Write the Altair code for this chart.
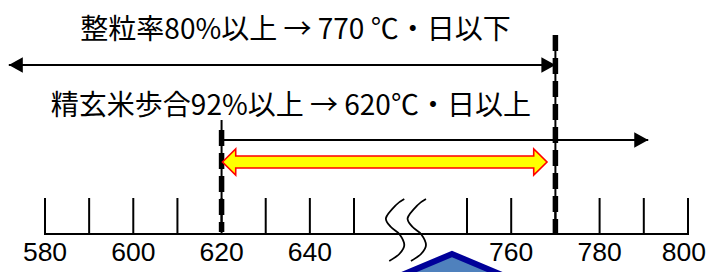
import altair as alt
import pandas as pd

# ---------------- data ----------------
TICK_VALUES = [580, 590, 600, 610, 620, 630, 640, 650, 750, 760, 770, 780, 790, 800]
TICK_LABELS = [580, 600, 620, 640, 760, 780, 800]
AXIS_MIN, AXIS_MAX = 580, 800
BREAK_LO, BREAK_HI = 650, 750

LOWER = 620   # 精玄米歩合92%以上 -> 620℃・日以上
UPPER = 770   # 整粒率80%以上 -> 770℃・日以下

TEXT_TOP = "整粒率80%以上 → 770 ℃・日以下"
TEXT_BOTTOM = "精玄米歩合92%以上 → 620℃・日以上"

# arrow extents (temperature units)
ARROW_UPPER_FROM = 571.8   # open-ended to the left
ARROW_LOWER_TO = 791       # open-ended to the right
OPT_FROM, OPT_TO = 620.2, 768.1   # optimal range arrow
OPT_HEAD = 3.0

# break symbol (temperature units inside the break)
BREAK_S_X = [694.5, 687.2, 678.3, 682.7, 690.1, 694.5, 690.1, 681.2]
BREAK_S_Y = [199, 205, 218, 227, 234, 245, 254, 261]
BREAK_S_SHIFT = 19.2

# bottom chevron
CHEV_X = [681.9, 736.7, 760.6]

# ---------------- layout (vertical positions) ----------------
Y_TEXT1, Y_ARROW1, Y_TEXT2, Y_ARROW2 = 39, 65, 115, 140
Y_OPT, OPT_HALF_HEAD, OPT_HALF_SHAFT = 162, 13, 6
Y_TICK_TOP, Y_BASE, Y_LABEL = 198, 234, 261
CHEV_Y = [280, 254, 280]

x_scale = alt.Scale(domain=[AXIS_MIN, BREAK_LO, BREAK_HI, AXIS_MAX],
                    range=[37, 346, 459, 680], nice=False, zero=False)
y_scale = alt.Scale(domain=[8, 272], range=[0, 264], nice=False, zero=False)


def X(f):
    return alt.X(f, type="quantitative", scale=x_scale, axis=None)


def Y(f):
    return alt.Y(f, type="quantitative", scale=y_scale, axis=None)


# baseline
base_df = pd.DataFrame({"x0": [AXIS_MIN], "x1": [AXIS_MAX], "y": [Y_BASE]})
baseline = alt.Chart(base_df).mark_rule(color="black", strokeWidth=2, strokeCap="square").encode(
    x=X("x0"), x2="x1:Q", y=Y("y"))

# ticks
tick_df = pd.DataFrame({"v": TICK_VALUES, "y0": Y_TICK_TOP, "y1": Y_BASE})
ticks = alt.Chart(tick_df).mark_rule(color="black", strokeWidth=2).encode(
    x=X("v"), y=Y("y0"), y2="y1:Q")

# tick labels (the last one is kept inside the page edge)
lab_df = pd.DataFrame({"v": TICK_LABELS, "y": Y_LABEL, "t": [str(v) for v in TICK_LABELS]})
labels = alt.Chart(lab_df[lab_df["v"] < AXIS_MAX]).mark_text(
    font="Liberation Sans", fontSize=26.5, color="black",
    baseline="alphabetic", align="center").encode(x=X("v"), y=Y("y"), text="t:N")
label_last = alt.Chart(lab_df[lab_df["v"] == AXIS_MAX]).mark_text(
    font="Liberation Sans", fontSize=26.5, color="black",
    baseline="alphabetic", align="right", dx=18).encode(x=X("v"), y=Y("y"), text="t:N")

# break symbol
rows = []
for k in range(2):
    for i, (bx, by) in enumerate(zip(BREAK_S_X, BREAK_S_Y)):
        rows.append({"c": k, "i": i, "v": bx + k * BREAK_S_SHIFT, "y": by})
brk = alt.Chart(pd.DataFrame(rows)).mark_line(color="black", strokeWidth=1.8,
                                              interpolate="cardinal").encode(
    x=X("v"), y=Y("y"), detail="c:N", order="i:Q")

# chevron
chev_df = pd.DataFrame({"v": CHEV_X, "y": CHEV_Y, "y2": [300, 300, 300]})
chev = alt.Chart(chev_df).mark_area(fill="#4F81BD", stroke="#000099", strokeWidth=6,
                                    strokeJoin="miter", opacity=1).encode(
    x=X("v"), y=Y("y"), y2="y2:Q")

# arrow lines
arr_df = pd.DataFrame({"x0": [ARROW_UPPER_FROM, LOWER], "x1": [UPPER, ARROW_LOWER_TO],
                       "y": [Y_ARROW1, Y_ARROW2]})
arr_lines = alt.Chart(arr_df).mark_rule(color="black", strokeWidth=2).encode(
    x=X("x0"), x2="x1:Q", y=Y("y"))

RIGHT_HEAD = "M0,0L-1,-0.55L-1,0.55Z"
LEFT_HEAD = "M0,0L1,-0.55L1,0.55Z"
rh_df = pd.DataFrame({"v": [UPPER, ARROW_LOWER_TO], "y": [Y_ARROW1, Y_ARROW2]})
lh_df = pd.DataFrame({"v": [ARROW_UPPER_FROM], "y": [Y_ARROW1]})
rheads = alt.Chart(rh_df).mark_point(shape=RIGHT_HEAD, size=784, filled=True, color="black",
                                     opacity=1, strokeWidth=0).encode(x=X("v"), y=Y("y"))
lheads = alt.Chart(lh_df).mark_point(shape=LEFT_HEAD, size=784, filled=True, color="black",
                                     opacity=1, strokeWidth=0).encode(x=X("v"), y=Y("y"))

# dashed threshold lines
thin_df = pd.DataFrame({"v": [LOWER, UPPER], "y0": [120, 35], "y1": [232, Y_BASE]})
thin = alt.Chart(thin_df).mark_rule(color="black", strokeWidth=2).encode(
    x=X("v"), y=Y("y0"), y2="y1:Q")
dash_df = pd.DataFrame({"v": [LOWER, UPPER], "y0": [130, 35], "y1": [232, Y_BASE]})
dash = alt.Chart(dash_df).mark_rule(color="black", strokeWidth=5.5, strokeDash=[16, 7]).encode(
    x=X("v"), y=Y("y0"), y2="y1:Q")

# optimal range double arrow (yellow with red outline)
halves = [0, OPT_HALF_HEAD, OPT_HALF_SHAFT, OPT_HALF_SHAFT, OPT_HALF_HEAD, 0]
xs = [OPT_FROM, OPT_FROM + OPT_HEAD, OPT_FROM + OPT_HEAD + 0.01,
      OPT_TO - OPT_HEAD - 0.01, OPT_TO - OPT_HEAD, OPT_TO]
opt_df = pd.DataFrame({"v": xs, "lo": [Y_OPT - h for h in halves], "hi": [Y_OPT + h for h in halves]})
opt = alt.Chart(opt_df).mark_area(fill="#FFFF00", stroke="#FF0000", strokeWidth=1.6,
                                  strokeJoin="miter", opacity=1).encode(
    x=X("v"), y=Y("lo"), y2="hi:Q")

# texts
txt_df = pd.DataFrame({"v": [636.75, 635.7], "y": [Y_TEXT1, Y_TEXT2], "t": [TEXT_TOP, TEXT_BOTTOM]})
texts = alt.Chart(txt_df).mark_text(font="Noto Sans CJK JP", fontSize=28, color="black",
                                    baseline="alphabetic", align="center").encode(
    x=X("v"), y=Y("y"), text="t:N")

chart = alt.layer(baseline, ticks, labels, label_last, brk, chev, arr_lines, thin, dash,
                  rheads, lheads, opt, texts).properties(
    width=698, height=264, autosize=alt.AutoSizeParams(type="none"), padding=0,
    background="white"
).configure_view(stroke=None)

chart.save("out.html", embed_options={"renderer": "svg", "actions": False})
